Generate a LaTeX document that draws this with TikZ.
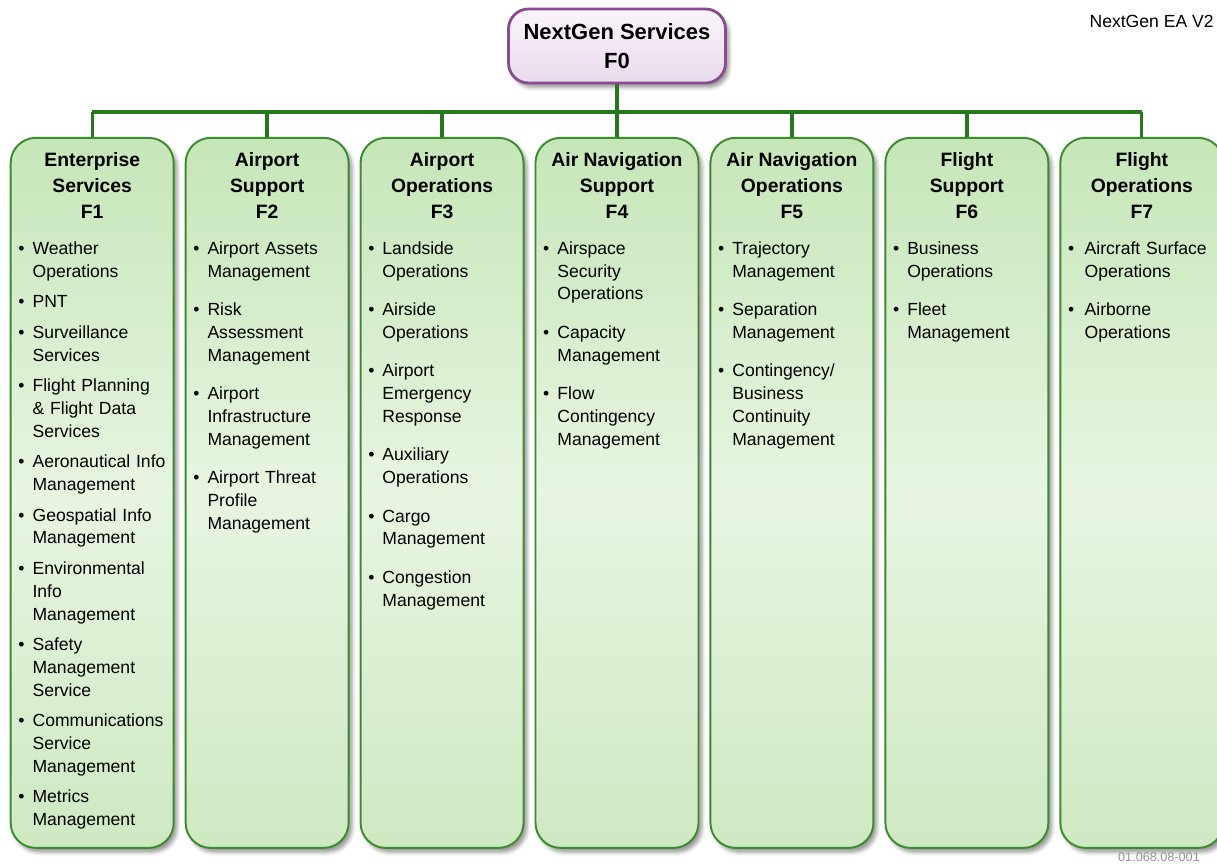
\documentclass[tikz,border=0pt]{standalone}
\usepackage{fontspec}
\setmainfont{Liberation Sans}
\usepackage{enumitem}
\usepackage{tikz}
\usetikzlibrary{positioning, shadows.blur}
\definecolor{linegreen}{RGB}{40,118,30}
\definecolor{boxgreen}{RGB}{58,140,44}
\definecolor{greentop}{RGB}{198,230,184}
\definecolor{greenmid}{RGB}{231,245,225}
\definecolor{greenbot}{RGB}{206,233,194}
\definecolor{plum}{RGB}{138,75,145}
\definecolor{plumtop}{RGB}{251,244,251}
\definecolor{plumbot}{RGB}{233,219,236}
\setlist[itemize]{label=\textbullet, leftmargin=0.4cm, labelsep=0.16cm, topsep=0pt, partopsep=0pt, parsep=0pt, itemsep=9pt}
\tikzstyle{rootbox} = [rectangle, rounded corners=0.4cm, minimum width=4.34cm, minimum height=1.48cm, align=center, draw=plum, line width=1.6pt, top color=plumtop, bottom color=plumbot, font=\fontsize{12.5}{16.4}\selectfont\bfseries, blur shadow={shadow xshift=2pt, shadow yshift=-2.5pt}]
\tikzstyle{column} = [rectangle, rounded corners=0.5cm, minimum width=3.26cm, minimum height=14.2cm, draw=boxgreen, line width=1.1pt, top color=greentop, bottom color=greenbot, middle color=greenmid, blur shadow={shadow xshift=2pt, shadow yshift=-2.5pt}]
\tikzstyle{coltitle} = [align=center, inner sep=0pt, font=\fontsize{11}{14.74}\selectfont\bfseries]
\tikzstyle{items} = [inner sep=0pt, text width=3.16cm, align=left, font=\fontsize{10}{12.93}\selectfont]
\tikzstyle{link} = [draw=linegreen, line width=1.9pt]

\begin{document}
\begin{tikzpicture}[node distance=0.2cm]
    \useasboundingbox (0,0) rectangle (24.34,-17.3);
    \clip (0,0) rectangle (24.34,-17.3);
    \node (f0) [rootbox] at (12.34,-0.92) {NextGen Services\\F0};
    \coordinate (bus) at (12.34,-2.24);

    \node (f4) [column, below=1.05cm of f0] {};
    \node (f3) [column, left=of f4] {};
    \node (f2) [column, left=of f3] {};
    \node (f1) [column, left=of f2] {};
    \node (f5) [column, right=of f4] {};
    \node (f6) [column, right=of f5] {};
    \node (f7) [column, right=of f6] {};

    \draw [link] (f0) -- (bus);
    \draw [link] (f1.north |- bus) -- (f7.north |- bus);
    \foreach \i in {1,...,7}
        \draw [link] (f\i.north |- bus) -- (f\i.north);

    \node (t1) [coltitle, below=0.3cm of f1.north] {Enterprise\\Services\\F1};
    \node (t2) [coltitle, below=0.3cm of f2.north] {Airport\\Support\\F2};
    \node (t3) [coltitle, below=0.3cm of f3.north] {Airport\\Operations\\F3};
    \node (t4) [coltitle, below=0.3cm of f4.north] {Air Navigation\\Support\\F4};
    \node (t5) [coltitle, below=0.3cm of f5.north] {Air Navigation\\Operations\\F5};
    \node (t6) [coltitle, below=0.3cm of f6.north] {Flight\\Support\\F6};
    \node (t7) [coltitle, below=0.3cm of f7.north] {Flight\\Operations\\F7};

    \node (l1) [items, below right=1.89cm and 0.05cm of f1.north west] {%
        \begin{itemize}[itemsep=4.5pt]
            \item Weather\\Operations
            \item PNT
            \item Surveillance\\Services
            \item Flight Planning\\\& Flight Data\\Services
            \item Aeronautical Info\\Management
            \item Geospatial Info\\Management
            \item Environmental\\Info\\Management
            \item Safety\\Management\\Service
            \item Communications\\Service\\Management
            \item Metrics\\Management
        \end{itemize}};
    \node (l2) [items, below right=1.89cm and 0.05cm of f2.north west] {%
        \begin{itemize}
            \item Airport Assets\\Management
            \item Risk\\Assessment\\Management
            \item Airport\\Infrastructure\\Management
            \item Airport Threat\\Profile\\Management
        \end{itemize}};
    \node (l3) [items, below right=1.89cm and 0.05cm of f3.north west] {%
        \begin{itemize}
            \item Landside\\Operations
            \item Airside\\Operations
            \item Airport\\Emergency\\Response
            \item Auxiliary\\Operations
            \item Cargo\\Management
            \item Congestion\\Management
        \end{itemize}};
    \node (l4) [items, below right=1.89cm and 0.05cm of f4.north west] {%
        \begin{itemize}
            \item Airspace\\Security\\Operations
            \item Capacity\\Management
            \item Flow\\Contingency\\Management
        \end{itemize}};
    \node (l5) [items, below right=1.89cm and 0.05cm of f5.north west] {%
        \begin{itemize}
            \item Trajectory\\Management
            \item Separation\\Management
            \item Contingency/\\Business\\Continuity\\Management
        \end{itemize}};
    \node (l6) [items, below right=1.89cm and 0.05cm of f6.north west] {%
        \begin{itemize}
            \item Business\\Operations
            \item Fleet\\Management
        \end{itemize}};
    \node (l7) [items, below right=1.89cm and 0.05cm of f7.north west] {%
        \begin{itemize}[leftmargin=0.45cm, labelsep=0.21cm]
            \item Aircraft Surface\\Operations
            \item Airborne\\Operations
        \end{itemize}};

    \node (ver) [anchor=east, inner sep=0pt, font=\fontsize{10}{12}\selectfont] at (24.28,-0.42) {NextGen EA V2};
    \node (code) [anchor=east, text=black!42, font=\fontsize{7.2}{9}\selectfont] at (24.12,-17.14) {01.068.08-001};
\end{tikzpicture}
\end{document}
